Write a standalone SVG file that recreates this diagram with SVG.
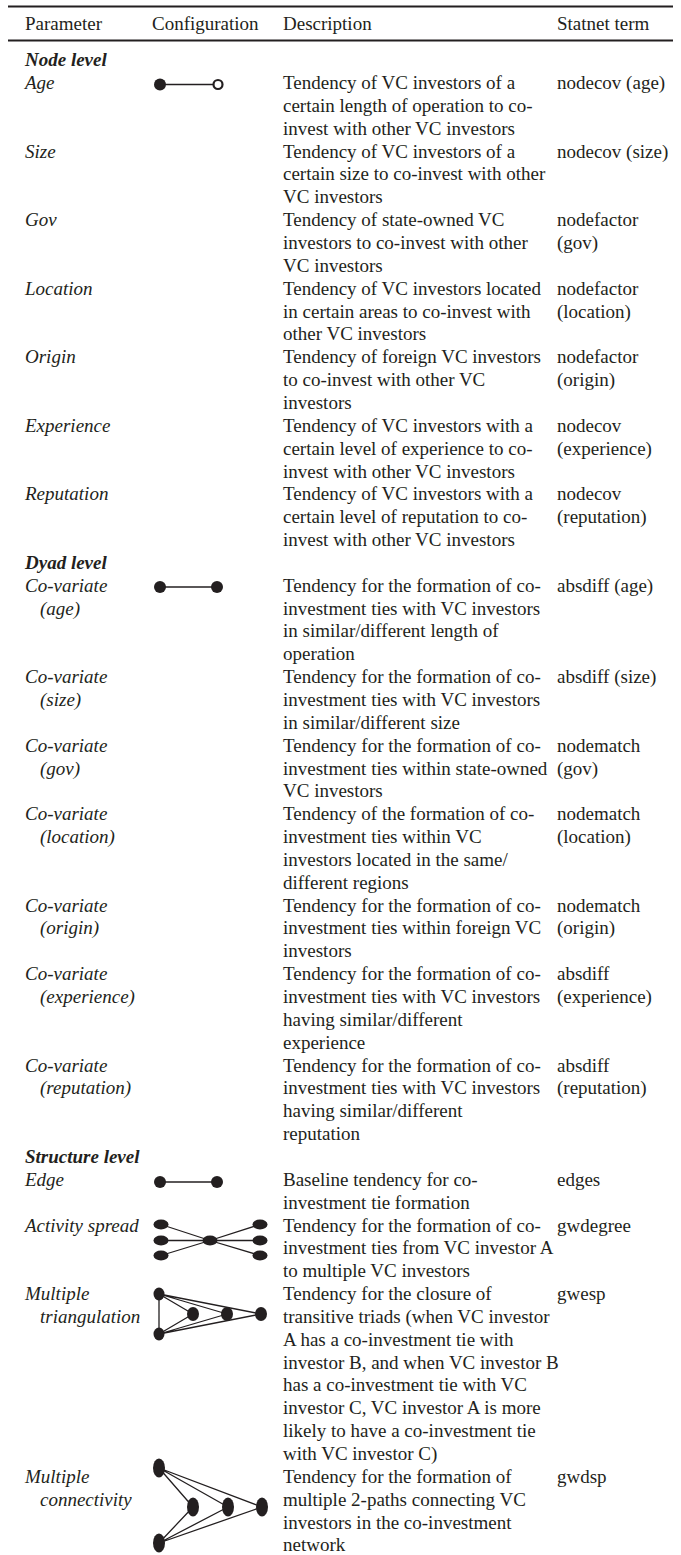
<svg xmlns="http://www.w3.org/2000/svg" width="681" height="1555" viewBox="0 0 681 1555">
<style>
text{font-family:"Liberation Serif","Times New Roman",serif;font-size:19px;fill:#231f20}
.i{font-style:italic}
.bi{font-style:italic;font-weight:bold}
.n{fill:#231f20}
.e{stroke:#231f20;stroke-width:1.3;fill:none}
.rule{stroke:#231f20;stroke-width:2.2}
</style>
<rect width="681" height="1555" fill="#fff"/>
<g id="header">
<line class="rule" x1="8" y1="6.5" x2="673" y2="6.5"/>
<text x="25" y="30">Parameter</text>
<text x="152" y="30">Configuration</text>
<text x="283" y="30">Description</text>
<text x="557" y="30">Statnet term</text>
<line class="rule" x1="8" y1="40.5" x2="673" y2="40.5"/>
</g>
<g id="node-level">
<text class="bi" x="25" y="66.2">Node level</text>
</g>
<g id="row-age">
<text class="i" x="25" y="89">Age</text>
<text x="283" y="89">Tendency of VC investors of a<tspan x="283" dy="22.85">certain length of operation to co-</tspan><tspan x="283" dy="22.85">invest with other VC investors</tspan></text>
<text x="557" y="89">nodecov (age)</text>
</g>
<g id="row-size">
<text class="i" x="25" y="157.6">Size</text>
<text x="283" y="157.6">Tendency of VC investors of a<tspan x="283" dy="22.85">certain size to co-invest with other</tspan><tspan x="283" dy="22.85">VC investors</tspan></text>
<text x="557" y="157.6">nodecov (size)</text>
</g>
<g id="row-gov">
<text class="i" x="25" y="226.1">Gov</text>
<text x="283" y="226.1">Tendency of state-owned VC<tspan x="283" dy="22.85">investors to co-invest with other</tspan><tspan x="283" dy="22.85">VC investors</tspan></text>
<text x="557" y="226.1">nodefactor<tspan x="557" dy="22.85">(gov)</tspan></text>
</g>
<g id="row-location">
<text class="i" x="25" y="294.7">Location</text>
<text x="283" y="294.7">Tendency of VC investors located<tspan x="283" dy="22.85">in certain areas to co-invest with</tspan><tspan x="283" dy="22.85">other VC investors</tspan></text>
<text x="557" y="294.7">nodefactor<tspan x="557" dy="22.85">(location)</tspan></text>
</g>
<g id="row-origin">
<text class="i" x="25" y="363.2">Origin</text>
<text x="283" y="363.2">Tendency of foreign VC investors<tspan x="283" dy="22.85">to co-invest with other VC</tspan><tspan x="283" dy="22.85">investors</tspan></text>
<text x="557" y="363.2">nodefactor<tspan x="557" dy="22.85">(origin)</tspan></text>
</g>
<g id="row-experience">
<text class="i" x="25" y="431.8">Experience</text>
<text x="283" y="431.8">Tendency of VC investors with a<tspan x="283" dy="22.85">certain level of experience to co-</tspan><tspan x="283" dy="22.85">invest with other VC investors</tspan></text>
<text x="557" y="431.8">nodecov<tspan x="557" dy="22.85">(experience)</tspan></text>
</g>
<g id="row-reputation">
<text class="i" x="25" y="500.3">Reputation</text>
<text x="283" y="500.3">Tendency of VC investors with a<tspan x="283" dy="22.85">certain level of reputation to co-</tspan><tspan x="283" dy="22.85">invest with other VC investors</tspan></text>
<text x="557" y="500.3">nodecov<tspan x="557" dy="22.85">(reputation)</tspan></text>
</g>
<g id="dyad-level">
<text class="bi" x="25" y="568.9">Dyad level</text>
</g>
<g id="row-co-age">
<text class="i" x="25" y="591.7">Co-variate<tspan x="40" dy="22.85">(age)</tspan></text>
<text x="283" y="591.7">Tendency for the formation of co-<tspan x="283" dy="22.85">investment ties with VC investors</tspan><tspan x="283" dy="22.85">in similar/different length of</tspan><tspan x="283" dy="22.85">operation</tspan></text>
<text x="557" y="591.7">absdiff (age)</text>
</g>
<g id="row-co-size">
<text class="i" x="25" y="683.1">Co-variate<tspan x="40" dy="22.85">(size)</tspan></text>
<text x="283" y="683.1">Tendency for the formation of co-<tspan x="283" dy="22.85">investment ties with VC investors</tspan><tspan x="283" dy="22.85">in similar/different size</tspan></text>
<text x="557" y="683.1">absdiff (size)</text>
</g>
<g id="row-co-gov">
<text class="i" x="25" y="751.7">Co-variate<tspan x="40" dy="22.85">(gov)</tspan></text>
<text x="283" y="751.7">Tendency for the formation of co-<tspan x="283" dy="22.85">investment ties within state-owned</tspan><tspan x="283" dy="22.85">VC investors</tspan></text>
<text x="557" y="751.7">nodematch<tspan x="557" dy="22.85">(gov)</tspan></text>
</g>
<g id="row-co-location">
<text class="i" x="25" y="820.2">Co-variate<tspan x="40" dy="22.85">(location)</tspan></text>
<text x="283" y="820.2">Tendency of the formation of co-<tspan x="283" dy="22.85">investment ties within VC</tspan><tspan x="283" dy="22.85">investors located in the same/</tspan><tspan x="283" dy="22.85">different regions</tspan></text>
<text x="557" y="820.2">nodematch<tspan x="557" dy="22.85">(location)</tspan></text>
</g>
<g id="row-co-origin">
<text class="i" x="25" y="911.6">Co-variate<tspan x="40" dy="22.85">(origin)</tspan></text>
<text x="283" y="911.6">Tendency for the formation of co-<tspan x="283" dy="22.85">investment ties within foreign VC</tspan><tspan x="283" dy="22.85">investors</tspan></text>
<text x="557" y="911.6">nodematch<tspan x="557" dy="22.85">(origin)</tspan></text>
</g>
<g id="row-co-experience">
<text class="i" x="25" y="980.2">Co-variate<tspan x="40" dy="22.85">(experience)</tspan></text>
<text x="283" y="980.2">Tendency for the formation of co-<tspan x="283" dy="22.85">investment ties with VC investors</tspan><tspan x="283" dy="22.85">having similar/different</tspan><tspan x="283" dy="22.85">experience</tspan></text>
<text x="557" y="980.2">absdiff<tspan x="557" dy="22.85">(experience)</tspan></text>
</g>
<g id="row-co-reputation">
<text class="i" x="25" y="1071.6">Co-variate<tspan x="40" dy="22.85">(reputation)</tspan></text>
<text x="283" y="1071.6">Tendency for the formation of co-<tspan x="283" dy="22.85">investment ties with VC investors</tspan><tspan x="283" dy="22.85">having similar/different</tspan><tspan x="283" dy="22.85">reputation</tspan></text>
<text x="557" y="1071.6">absdiff<tspan x="557" dy="22.85">(reputation)</tspan></text>
</g>
<g id="structure-level">
<text class="bi" x="25" y="1163">Structure level</text>
</g>
<g id="row-edge">
<text class="i" x="25" y="1185.8">Edge</text>
<text x="283" y="1185.8">Baseline tendency for co-<tspan x="283" dy="22.85">investment tie formation</tspan></text>
<text x="557" y="1185.8">edges</text>
</g>
<g id="row-activity">
<text class="i" x="25" y="1231.5">Activity spread</text>
<text x="283" y="1231.5">Tendency for the formation of co-<tspan x="283" dy="22.85">investment ties from VC investor A</tspan><tspan x="283" dy="22.85">to multiple VC investors</tspan></text>
<text x="557" y="1231.5">gwdegree</text>
</g>
<g id="row-triangulation">
<text class="i" x="25" y="1300">Multiple<tspan x="40" dy="22.85">triangulation</tspan></text>
<text x="283" y="1300">Tendency for the closure of<tspan x="283" dy="22.85">transitive triads (when VC investor</tspan><tspan x="283" dy="22.85">A has a co-investment tie with</tspan><tspan x="283" dy="22.85">investor B, and when VC investor B</tspan><tspan x="283" dy="22.85">has a co-investment tie with VC</tspan><tspan x="283" dy="22.85">investor C, VC investor A is more</tspan><tspan x="283" dy="22.85">likely to have a co-investment tie</tspan><tspan x="283" dy="22.85">with VC investor C)</tspan></text>
<text x="557" y="1300">gwesp</text>
</g>
<g id="row-connectivity">
<text class="i" x="25" y="1482.9">Multiple<tspan x="40" dy="22.85">connectivity</tspan></text>
<text x="283" y="1482.9">Tendency for the formation of<tspan x="283" dy="22.85">multiple 2-paths connecting VC</tspan><tspan x="283" dy="22.85">investors in the co-investment</tspan><tspan x="283" dy="22.85">network</tspan></text>
<text x="557" y="1482.9">gwdsp</text>
</g>
<g id="connectors">
<line class="e" x1="160" y1="84.5" x2="214" y2="84.5"/>
<line class="e" x1="160" y1="587" x2="217" y2="587"/>
<line class="e" x1="160" y1="1182" x2="217" y2="1182"/>
<path class="e" d="M161 1224.5L210 1240.5M161 1240.5L210 1240.5M161 1255.5L210 1240.5M210 1240.5L260 1224.5M210 1240.5L260 1240.5M210 1240.5L260 1255.5"/>
<path class="e" d="M159 1294L159 1334M159 1294L193 1314M159 1294L227 1314M159 1294L261 1314M159 1334L193 1314M159 1334L227 1314M159 1334L261 1314"/>
<path class="e" d="M159 1468L193 1507M159 1468L228 1507M159 1468L262 1507M159 1543L193 1507M159 1543L228 1507M159 1543L262 1507"/>
</g>
<g id="config-age">
<circle class="n" cx="160" cy="84.5" r="6"/>
<circle cx="218" cy="84.5" r="4.5" fill="#fff" stroke="#231f20" stroke-width="2.2"/>
</g>
<g id="config-dyad">
<circle class="n" cx="160" cy="587" r="6"/>
<circle class="n" cx="217" cy="587" r="6"/>
</g>
<g id="config-edge">
<circle class="n" cx="160" cy="1182" r="6"/>
<circle class="n" cx="217" cy="1182" r="6"/>
</g>
<g id="config-activity">
<ellipse class="n" cx="161" cy="1224.5" rx="7.5" ry="5"/>
<ellipse class="n" cx="161" cy="1240.5" rx="7.5" ry="5"/>
<ellipse class="n" cx="161" cy="1255.5" rx="7.5" ry="5"/>
<ellipse class="n" cx="210" cy="1240.5" rx="7.5" ry="5"/>
<ellipse class="n" cx="260" cy="1224.5" rx="7.5" ry="5"/>
<ellipse class="n" cx="260" cy="1240.5" rx="7.5" ry="5"/>
<ellipse class="n" cx="260" cy="1255.5" rx="7.5" ry="5"/>
</g>
<g id="config-triangulation">
<ellipse class="n" cx="159" cy="1294" rx="5.5" ry="6.5"/>
<ellipse class="n" cx="159" cy="1334" rx="5.5" ry="6.5"/>
<ellipse class="n" cx="193" cy="1314" rx="6" ry="7"/>
<ellipse class="n" cx="227" cy="1314" rx="6" ry="7"/>
<ellipse class="n" cx="261" cy="1314" rx="6" ry="7"/>
</g>
<g id="config-connectivity">
<ellipse class="n" cx="159" cy="1468" rx="6" ry="9.5"/>
<ellipse class="n" cx="159" cy="1543" rx="6" ry="9.5"/>
<ellipse class="n" cx="193" cy="1507" rx="6" ry="9.5"/>
<ellipse class="n" cx="228" cy="1507" rx="6" ry="9.5"/>
<ellipse class="n" cx="262" cy="1507" rx="6" ry="9.5"/>
</g>
</svg>
